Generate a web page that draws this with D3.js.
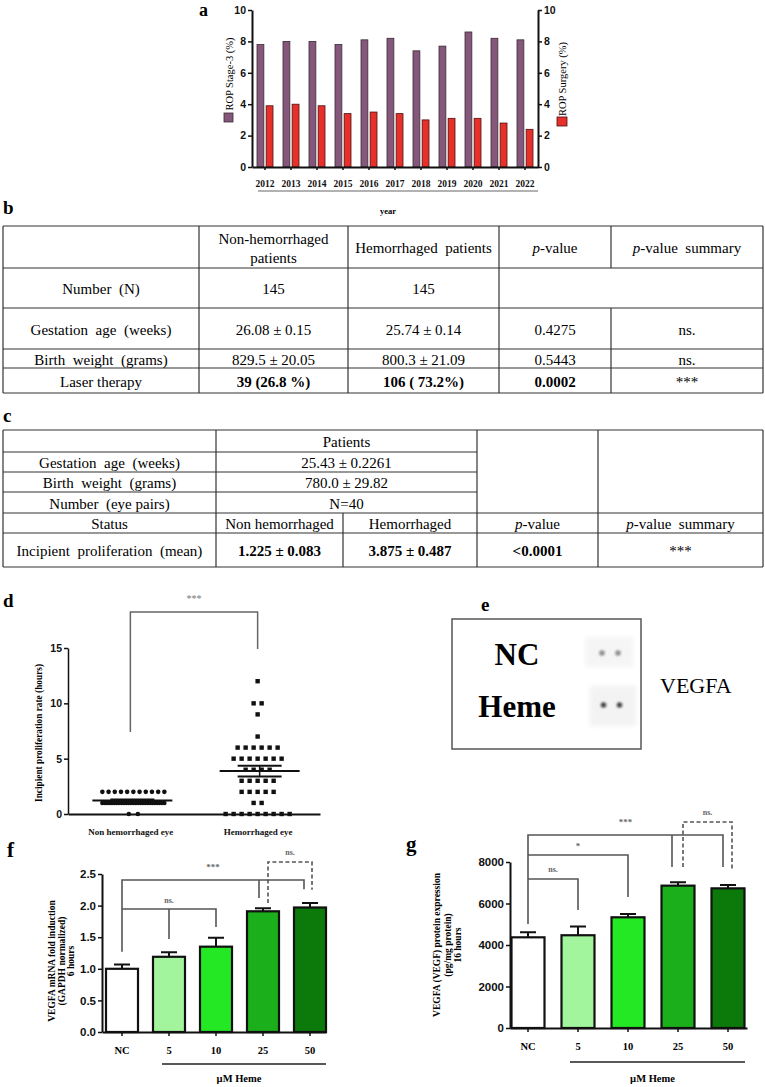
<!DOCTYPE html>
<html>
<head>
<meta charset="utf-8">
<script src="https://cdn.jsdelivr.net/npm/d3@7"></script>
<style>
  body { margin: 0; background: #fff; }
  svg { display: block; }
</style>
</head>
<body>
<div id="chart"></div>
<script>
// ---- panel a: ROP per year
const years = ['2012', '2013', '2014', '2015', '2016', '2017', '2018', '2019', '2020', '2021', '2022']
const stage3 = [7.8, 8.0, 8.0, 7.8, 8.1, 8.2, 7.4, 7.7, 8.6, 8.2, 8.1]
const surgery = [3.9, 4.0, 3.9, 3.4, 3.5, 3.4, 3.0, 3.1, 3.1, 2.8, 2.4]
const ropTicks = [0, 2, 4, 6, 8, 10]

// ---- table b  (~ marks italic, | marks a line break)
const tableBHead = ['', 'Non-hemorrhaged|patients', 'Hemorrhaged  patients', '~p~-value', '~p~-value  summary']
const tableBRows = [
  ['Number  (N)', '145', '145', ''],
  ['Gestation  age  (weeks)', '26.08 ± 0.15', '25.74 ± 0.14', '0.4275', 'ns.'],
  ['Birth  weight  (grams)', '829.5 ± 20.05', '800.3 ± 21.09', '0.5443', 'ns.'],
  ['Laser therapy', '39 (26.8 %)', '106 ( 73.2%)', '0.0002', '***']
]

// ---- table c
const tableCInfo = [
  ['', 'Patients'],
  ['Gestation  age  (weeks)', '25.43 ± 0.2261'],
  ['Birth  weight  (grams)', '780.0 ± 29.82'],
  ['Number  (eye pairs)', 'N=40']
]
const tableCHead = ['Status', 'Non hemorrhaged', 'Hemorrhaged', '~p~-value', '~p~-value  summary']
const tableCRow = ['Incipient  proliferation  (mean)', '1.225 ± 0.083', '3.875 ± 0.487', '<0.0001', '***']

// ---- panel d: incipient proliferation (value, count)
const eyeGroups = ['Non hemorrhaged eye', 'Hemorrhaged eye']
const nonHemCounts = [[2, 11], [1, 27], [0, 2]]
const hemCounts = [[12, 1], [10, 2], [9, 1], [7, 1], [6, 6], [5, 7], [4, 4], [3, 5], [2, 5], [1, 2], [0, 9]]
const eyeMean = [1.225, 3.875]
const eyeSem = [0.083, 0.487]
const prolifTicks = [0, 5, 10, 15]

// ---- panels f, g
const doses = ['NC', '5', '10', '25', '50']
const mrnaFold = [1.0, 1.19, 1.35, 1.91, 1.97]
const mrnaErr = [0.07, 0.07, 0.14, 0.05, 0.07]
const mrnaTicks = [0, 0.5, 1.0, 1.5, 2.0, 2.5]
const protein = [4370, 4470, 5335, 6860, 6730]
const proteinErr = [240, 420, 160, 160, 160]
const proteinTicks = [0, 2000, 4000, 6000, 8000]
const doseColors = ['#ffffff', '#a3f59d', '#25e825', '#1bb01b', '#0b7a0b']

const serif = '"Liberation Serif", "Times New Roman", serif'
const sans = '"Liberation Sans", Arial, sans-serif'

const svg = d3.select('#chart').append('svg')
  .attr('width', 765)
  .attr('height', 1087)

function panelLabel(t, x, y, size) {
  svg.append('text').attr('x', x).attr('y', y).text(t)
    .attr('font-family', serif).attr('font-weight', 'bold').attr('font-size', size)
}

function styleAxis(g, font, size, lw) {
  g.attr('font-family', null).attr('font-size', null)
  g.select('.domain').attr('stroke', '#111').attr('stroke-width', lw)
  g.selectAll('.tick line').attr('stroke', '#111').attr('stroke-width', 1.5)
  g.selectAll('.tick text').attr('font-family', font).attr('font-weight', 'bold')
    .attr('font-size', size).attr('fill', '#111')
}

function vtext(g, t, x, y, size, weight) {
  g.append('text').attr('transform', `translate(${x},${y}) rotate(-90)`)
    .attr('text-anchor', 'middle').attr('dy', '0.35em').text(t)
    .attr('font-family', serif).attr('font-weight', weight || 'bold').attr('font-size', size)
}

// ================= panel a
panelLabel('a', 199, 16, 18)
const gA = svg.append('g')
const xA = d3.scaleBand().domain(years).range([252, 538])
const xA1 = d3.scaleBand().domain(['stage3', 'surgery']).range([5, 21]).paddingInner(0.25)
const yA = d3.scaleLinear().domain([0, 10]).range([167, 10])

gA.selectAll('rect.s3').data(years).join('rect').attr('class', 's3')
  .attr('x', d => xA(d) + xA1('stage3'))
  .attr('width', xA1.bandwidth())
  .attr('y', (d, i) => yA(stage3[i]))
  .attr('height', (d, i) => yA(0) - yA(stage3[i]))
  .attr('fill', '#85587b').attr('stroke', '#3b2a36').attr('stroke-width', 0.8)

gA.selectAll('rect.su').data(years).join('rect').attr('class', 'su')
  .attr('x', d => xA(d) + xA1('surgery'))
  .attr('width', xA1.bandwidth())
  .attr('y', (d, i) => yA(surgery[i]))
  .attr('height', (d, i) => yA(0) - yA(surgery[i]))
  .attr('fill', '#e8302b').attr('stroke', '#4a1010').attr('stroke-width', 0.8)

gA.append('g').attr('transform', 'translate(252,0)')
  .call(d3.axisLeft(yA).tickValues(ropTicks).tickSize(4).tickSizeOuter(0).tickPadding(2))
  .call(g => styleAxis(g, sans, 10.5, 2))
gA.append('g').attr('transform', 'translate(538,0)')
  .call(d3.axisRight(yA).tickValues(ropTicks).tickSize(4).tickSizeOuter(0).tickPadding(2))
  .call(g => styleAxis(g, sans, 10.5, 2))
gA.append('g').attr('transform', 'translate(0,167)')
  .call(d3.axisBottom(xA).tickSize(3).tickSizeOuter(0).tickPadding(10))
  .call(g => styleAxis(g, serif, 9.5, 2))

gA.append('line').attr('x1', 258).attr('x2', 538).attr('y1', 191).attr('y2', 191)
  .attr('stroke', '#999').attr('stroke-width', 1.5)
gA.append('text').attr('x', 388).attr('y', 214).attr('text-anchor', 'middle').text('year')
  .attr('font-family', serif).attr('font-weight', 'bold').attr('font-size', 8.5)

vtext(gA, 'ROP Stage-3 (%)', 229, 74, 10.5, 'normal')
gA.append('rect').attr('x', 224).attr('y', 113).attr('width', 9).attr('height', 9)
  .attr('fill', '#85587b').attr('stroke', '#3b2a36').attr('stroke-width', 0.8)
vtext(gA, 'ROP Surgery (%)', 562, 79, 10.5, 'normal')
gA.append('rect').attr('x', 557).attr('y', 117).attr('width', 10).attr('height', 9)
  .attr('fill', '#e8302b').attr('stroke', '#4a1010').attr('stroke-width', 0.8)

// ================= tables
function cellText(g, t, x, y, size, bold) {
  const lines = t.split('|')
  lines.forEach((ln, li) => {
    const txt = g.append('text').attr('x', x).attr('y', y + (li - (lines.length - 1) / 2) * 19)
      .attr('dy', '0.35em').attr('text-anchor', 'middle')
      .attr('font-family', serif).attr('font-size', size)
      .attr('font-weight', bold ? 'bold' : 'normal')
      .style('white-space', 'pre')
    ln.split('~').forEach((part, k) => {
      if (part === '') return
      txt.append('tspan').text(part).attr('font-style', k % 2 === 1 ? 'italic' : 'normal')
    })
  })
}
function hline(g, x1, x2, y) {
  g.append('line').attr('x1', x1).attr('x2', x2).attr('y1', y).attr('y2', y)
    .attr('stroke', '#333').attr('stroke-width', 1.2)
}
function vline(g, x, y1, y2) {
  g.append('line').attr('x1', x).attr('x2', x).attr('y1', y1).attr('y2', y2)
    .attr('stroke', '#333').attr('stroke-width', 1.2)
}

// table b
panelLabel('b', 3, 214, 19)
const gB = svg.append('g')
const colsB = [3, 199, 348, 499, 611, 763]
const rowsB = [226, 268, 308, 349, 368, 393]
rowsB.forEach(y => hline(gB, colsB[0], colsB[5], y))
;[0, 1, 2, 3, 5].forEach(i => vline(gB, colsB[i], rowsB[0], rowsB[5]))
vline(gB, colsB[4], rowsB[0], rowsB[1])
vline(gB, colsB[4], rowsB[2], rowsB[5])
const midB = i => (colsB[i] + colsB[i + 1]) / 2
tableBHead.forEach((t, i) => cellText(gB, t, midB(i), (rowsB[0] + rowsB[1]) / 2 + 1, 15, false))
tableBRows.forEach((row, r) => {
  const yc = (rowsB[r + 1] + rowsB[r + 2]) / 2 + 1
  row.forEach((t, i) => cellText(gB, t, midB(i), yc, 15, r === 3 && i > 0 && i < 4))
})

// table c
panelLabel('c', 3, 422, 19)
const gC = svg.append('g')
const colsC = [3, 216, 343, 477, 598, 763]
const rowsC = [430, 452, 472, 492, 513, 533, 567]
hline(gC, colsC[0], colsC[5], rowsC[0])
;[1, 2, 3].forEach(i => hline(gC, colsC[0], colsC[3], rowsC[i]))
;[4, 5, 6].forEach(i => hline(gC, colsC[0], colsC[5], rowsC[i]))
;[0, 1, 3, 4, 5].forEach(i => vline(gC, colsC[i], rowsC[0], rowsC[6]))
vline(gC, colsC[2], rowsC[4], rowsC[6])
const midC = i => (colsC[i] + colsC[i + 1]) / 2
tableCInfo.forEach((row, r) => {
  const yc = (rowsC[r] + rowsC[r + 1]) / 2 + 1
  cellText(gC, row[0], midC(0), yc, 15, false)
  cellText(gC, row[1], (colsC[1] + colsC[3]) / 2, yc, 15, false)
})
tableCHead.forEach((t, i) => cellText(gC, t, midC(i), (rowsC[4] + rowsC[5]) / 2 + 1, 15, false))
tableCRow.forEach((t, i) => cellText(gC, t, midC(i), (rowsC[5] + rowsC[6]) / 2 + 1, 15, i > 0 && i < 4))

// ================= panel d
panelLabel('d', 3, 607, 19)
const gD = svg.append('g')
const yD = d3.scaleLinear().domain([0, 15]).range([814, 648])
const xD = d3.scalePoint().domain(eyeGroups).range([68, 320]).padding(0.49)

gD.append('g').attr('transform', 'translate(68,0)')
  .call(d3.axisLeft(yD).tickValues(prolifTicks).tickSize(4).tickSizeOuter(0).tickPadding(2))
  .call(g => styleAxis(g, sans, 10.5, 1.5))
gD.append('g').attr('transform', 'translate(0,814)')
  .call(d3.axisBottom(xD).tickSize(0).tickSizeOuter(0).tickPadding(15))
  .call(g => styleAxis(g, serif, 9, 2))
vtext(gD, 'Incipient proliferation rate (hours)', 39, 733, 9.3)

function rowPoints(center, counts, maxW, gap) {
  return counts.flatMap(([v, n]) => {
    const sp = n > 1 ? Math.min(gap, maxW / (n - 1)) : 0
    return d3.range(n).map(i => ({ x: center + (i - (n - 1) / 2) * sp, v }))
  })
}
const nonHemPts = rowPoints(xD(eyeGroups[0]) + 3, nonHemCounts, 62, 9)
const hemPts = rowPoints(xD(eyeGroups[1]), hemCounts, 64, 8)

gD.selectAll('circle.nh').data(nonHemPts).join('circle').attr('class', 'nh')
  .attr('cx', d => d.x).attr('cy', d => yD(d.v)).attr('r', 2.3).attr('fill', '#111')
gD.selectAll('rect.hm').data(hemPts).join('rect').attr('class', 'hm')
  .attr('x', d => d.x - 2.2).attr('y', d => yD(d.v) - 2.2).attr('width', 4.4).attr('height', 4.4)
  .attr('fill', '#111')

eyeGroups.forEach((grp, i) => {
  const cx = xD(grp) + 2
  const mw = 40
  const sw = 22
  gD.append('line').attr('x1', cx - mw).attr('x2', cx + mw)
    .attr('y1', yD(eyeMean[i])).attr('y2', yD(eyeMean[i])).attr('stroke', '#111').attr('stroke-width', 2)
  ;[-1, 1].forEach(s => {
    gD.append('line').attr('x1', cx - sw).attr('x2', cx + sw)
      .attr('y1', yD(eyeMean[i] + s * eyeSem[i])).attr('y2', yD(eyeMean[i] + s * eyeSem[i]))
      .attr('stroke', '#111').attr('stroke-width', 1.8)
  })
  gD.append('line').attr('x1', cx).attr('x2', cx)
    .attr('y1', yD(eyeMean[i] - eyeSem[i])).attr('y2', yD(eyeMean[i] + eyeSem[i]))
    .attr('stroke', '#111').attr('stroke-width', 1.5)
})

// significance bracket
gD.append('path')
  .attr('d', `M${xD(eyeGroups[0])},${yD(7.4)}V${yD(18.25)}H${xD(eyeGroups[1])}V${yD(14.9)}`)
  .attr('fill', 'none').attr('stroke', '#666').attr('stroke-width', 1.5)
gD.append('text').attr('x', (xD(eyeGroups[0]) + xD(eyeGroups[1])) / 2).attr('y', 602)
  .attr('text-anchor', 'middle').text('***')
  .attr('font-family', serif).attr('font-size', 10).attr('fill', '#777')

// ================= panel e (dot blot)
panelLabel('e', 481, 611, 19)
const gE = svg.append('g')
const defs = svg.append('defs')
defs.append('filter').attr('id', 'blur').attr('x', '-50%').attr('y', '-50%').attr('width', '200%').attr('height', '200%')
  .append('feGaussianBlur').attr('stdDeviation', 1.1)
defs.append('filter').attr('id', 'blur2')
  .append('feGaussianBlur').attr('stdDeviation', 2)
gE.append('rect').attr('x', 452).attr('y', 619).attr('width', 189).attr('height', 130)
  .attr('fill', '#fff').attr('stroke', '#555').attr('stroke-width', 1.5)
gE.append('rect').attr('x', 585).attr('y', 637).attr('width', 48).attr('height', 30)
  .attr('fill', '#f5f5f5').attr('filter', 'url(#blur2)')
gE.append('rect').attr('x', 590).attr('y', 686).attr('width', 46).attr('height', 40)
  .attr('fill', '#f3f3f3').attr('filter', 'url(#blur2)')
const blotLabels = ['NC', 'Heme']
const blotY = [653, 705]
const blotShade = ['#8f8f8f', '#4a4a4a']
blotLabels.forEach((t, i) => {
  gE.append('text').attr('x', 517).attr('y', blotY[i] + 12).attr('text-anchor', 'middle').text(t)
    .attr('font-family', serif).attr('font-weight', 'bold').attr('font-size', 31)
  ;[0, 16].forEach(dx => {
    gE.append('circle').attr('cx', 602 + i * 1.5 + dx).attr('cy', blotY[i]).attr('r', 2.8)
      .attr('fill', blotShade[i]).attr('filter', 'url(#blur)')
  })
})
gE.append('text').attr('x', 660).attr('y', 693).text('VEGFA')
  .attr('font-family', serif).attr('font-size', 22)

// ================= panels f and g
function barPanel(cfg) {
  const g = svg.append('g')
  const x = d3.scalePoint().domain(doses).range(cfg.centers)
  const y = d3.scaleLinear().domain([0, cfg.ticks[cfg.ticks.length - 1]]).range(cfg.yRange)
  const bw = cfg.barW

  g.selectAll('rect.bar').data(doses).join('rect').attr('class', 'bar')
    .attr('x', d => x(d) - bw / 2).attr('width', bw)
    .attr('y', (d, i) => y(cfg.values[i]))
    .attr('height', (d, i) => y(0) - y(cfg.values[i]))
    .attr('fill', (d, i) => doseColors[i]).attr('stroke', '#111').attr('stroke-width', 2.2)

  g.selectAll('path.err').data(doses).join('path').attr('class', 'err')
    .attr('d', (d, i) => {
      const top = y(cfg.values[i] + cfg.errors[i])
      return `M${x(d)},${y(cfg.values[i])}V${top}M${x(d) - 8},${top}H${x(d) + 8}`
    })
    .attr('fill', 'none').attr('stroke', '#111').attr('stroke-width', 2)

  g.append('g').attr('transform', `translate(${cfg.axisX},0)`)
    .call(d3.axisLeft(y).tickValues(cfg.ticks).tickFormat(cfg.fmt).tickSize(4).tickSizeOuter(0).tickPadding(2))
    .call(a => styleAxis(a, sans, 11.5, 2))
  const xb = d3.scaleLinear().domain([0, 1]).range([cfg.axisX, cfg.axisEnd])
  g.append('g').attr('transform', `translate(0,${cfg.yRange[0]})`)
    .call(d3.axisBottom(xb).tickValues([]).tickSizeOuter(0))
    .call(a => styleAxis(a, serif, 10.5, 2))
  g.selectAll('line.xt').data(doses).join('line').attr('class', 'xt')
    .attr('x1', d => x(d)).attr('x2', d => x(d))
    .attr('y1', cfg.yRange[0]).attr('y2', cfg.yRange[0] + 4)
    .attr('stroke', '#111').attr('stroke-width', 1.5)
  g.selectAll('text.xl').data(doses).join('text').attr('class', 'xl')
    .attr('x', d => x(d)).attr('y', cfg.labelY).attr('text-anchor', 'middle').text(d => d)
    .attr('font-family', serif).attr('font-weight', 'bold').attr('font-size', 10.5)

  g.append('line').attr('x1', cfg.heme[0]).attr('x2', cfg.heme[1])
    .attr('y1', cfg.heme[2]).attr('y2', cfg.heme[2]).attr('stroke', '#222').attr('stroke-width', 1.5)
  g.append('text').attr('x', (cfg.heme[0] + cfg.heme[1]) / 2 - 5).attr('y', 1082)
    .attr('text-anchor', 'middle').text('µM Heme')
    .attr('font-family', serif).attr('font-weight', 'bold').attr('font-size', 10.5)

  cfg.yLabel.forEach((t, i) => vtext(g, t, cfg.yLabelX[i], cfg.yLabelY, 9.5))

  cfg.brackets.forEach(b => {
    const x0 = x(b.from) + (b.dx0 || 0)
    const x1 = x(b.to) + (b.dx1 || 0)
    const lv = y(b.level)
    let d = `M${x0},${y(b.end0)}V${lv}H${x1}V${y(b.end1)}`
    ;(b.legs || []).forEach(l => { d += `M${x(l[0]) + (l[2] || 0)},${lv}V${y(l[1])}` })
    g.append('path').attr('d', d).attr('fill', 'none')
      .attr('stroke', '#555').attr('stroke-width', 1.6)
      .attr('stroke-dasharray', b.dashed ? '4,2.5' : null)
    g.append('text').attr('x', (x0 + x1) / 2).attr('y', lv - b.ly)
      .attr('text-anchor', 'middle').text(b.label)
      .attr('font-family', serif).attr('font-weight', 'bold')
      .attr('font-size', b.label === 'ns.' ? 8 : 9).attr('fill', '#666')
  })
}

panelLabel('f', 7, 857, 21)
barPanel({
  centers: [122, 310], barW: 32, ticks: mrnaTicks, fmt: d3.format('.1f'),
  yRange: [1032, 874], axisX: 102, axisEnd: 326, values: mrnaFold, errors: mrnaErr,
  labelY: 1054, heme: [162, 326, 1064],
  yLabel: ['VEGFA mRNA fold induction', '(GAPDH normalized)', '6 hours'],
  yLabelX: [52, 62, 71], yLabelY: 961,
  brackets: [
    { label: 'ns.', from: 'NC', to: '10', level: 1.946, end0: 1.946, end1: 1.66, legs: [['5', 1.47]], ly: 6 },
    { label: '***', from: 'NC', to: '50', dx1: -6, level: 2.405, end0: 1.27, end1: 2.26, legs: [['25', 2.12, -4]], ly: 10 },
    { label: 'ns.', from: '25', to: '50', dx0: 5, dx1: 2, level: 2.69, end0: 2.04, end1: 2.25, dashed: true, ly: 7 }
  ]
})

panelLabel('g', 406, 851, 21)
barPanel({
  centers: [528, 728], barW: 33, ticks: proteinTicks, fmt: d3.format('d'),
  yRange: [1028, 862], axisX: 510, axisEnd: 747, values: protein, errors: proteinErr,
  labelY: 1050, heme: [570, 745, 1062],
  yLabel: ['VEGFA (VEGF) protein expression', '(pg/mg protein)', '16 hours'],
  yLabelX: [437, 448, 458], yLabelY: 945,
  brackets: [
    { label: 'ns.', from: 'NC', to: '5', level: 7180, end0: 7180, end1: 5686, ly: 7 },
    { label: '*', from: 'NC', to: '10', level: 8337, end0: 8337, end1: 6313, ly: 6 },
    { label: '***', from: 'NC', to: '50', dx1: -5, level: 9301, end0: 5012, end1: 7759, legs: [['25', 7759, -6]], ly: 10 },
    { label: 'ns.', from: '25', to: '50', dx0: 5, dx1: 4, level: 9927, end0: 7759, end1: 7662, dashed: true, ly: 7 }
  ]
})
</script>
</body>
</html>
